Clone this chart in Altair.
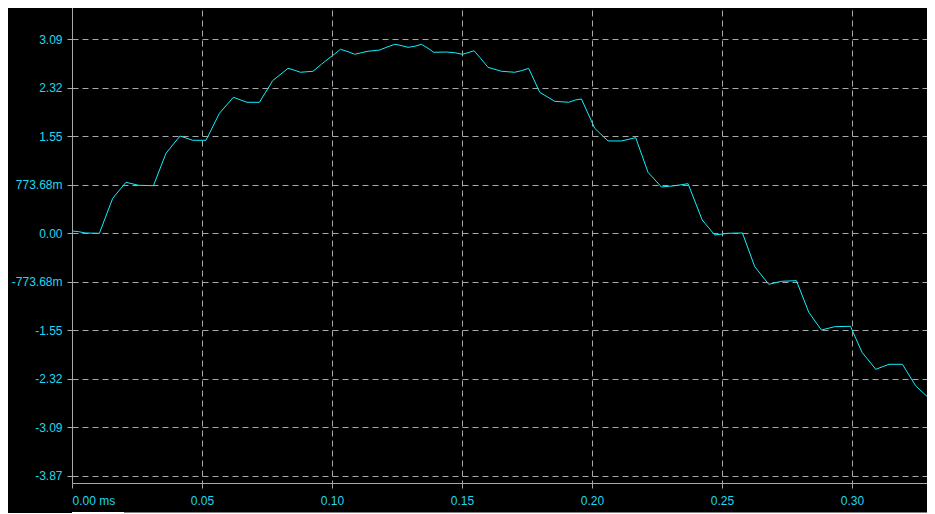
import altair as alt
import pandas as pd

# time (ms) and voltage (V)
t_ms = [0.0000, 0.00258, 0.00500, 0.01054, 0.01565, 0.02077, 0.02554, 0.03131,
        0.03615, 0.04154, 0.04642, 0.05154, 0.05669, 0.06208, 0.06731, 0.07208,
        0.07719, 0.08308, 0.08565, 0.08785, 0.09269, 0.09592, 0.09846, 0.10104,
        0.10323, 0.10615, 0.10873, 0.11131, 0.11385, 0.11835, 0.12154, 0.12412,
        0.12577, 0.12923, 0.13181, 0.13438, 0.13692, 0.13912, 0.14400, 0.14719,
        0.15015, 0.15231, 0.15462, 0.15681, 0.16000, 0.16515, 0.17027, 0.17285,
        0.17565, 0.17988, 0.18565, 0.19104, 0.19362, 0.19592, 0.20104, 0.20615,
        0.21131, 0.21681, 0.22154, 0.22669, 0.23181, 0.23692, 0.24238, 0.24719,
        0.25231, 0.25785, 0.26258, 0.26796, 0.27285, 0.27862, 0.28335, 0.28823,
        0.29335, 0.29938, 0.30385, 0.30912, 0.31423, 0.31938, 0.32450, 0.32923]
volts = [0.037, 0.026, 0.005, 0.000, 0.558, 0.814, 0.766, 0.759,
         1.276, 1.552, 1.484, 1.484, 1.914, 2.170, 2.090, 2.090,
         2.435, 2.632, 2.601, 2.569, 2.585, 2.696, 2.781, 2.861,
         2.936, 2.897, 2.856, 2.881, 2.904, 2.924, 2.977, 3.015,
         3.004, 2.967, 2.983, 3.015, 2.952, 2.888, 2.892, 2.881,
         2.856, 2.881, 2.913, 2.808, 2.648, 2.585, 2.569, 2.594,
         2.632, 2.250, 2.106, 2.090, 2.127, 2.143, 1.675, 1.473,
         1.473, 1.525, 0.973, 0.739, 0.759, 0.791, 0.212, -0.027,
         0.000, 0.005, -0.533, -0.814, -0.766, -0.756, -1.260, -1.543,
         -1.490, -1.484, -1.899, -2.170, -2.090, -2.090, -2.436, -2.616]

y_step = 0.773684
y_ticks = [k * y_step for k in range(-5, 5)]
x_ticks = [0.0, 0.05, 0.10, 0.15, 0.20, 0.25, 0.30]
y_domain = [-3.984, 3.722]
x_domain = [0.0, 0.3296]

df = pd.DataFrame({"t": t_ms, "v": volts})

GRID = "#a8a8a8"
CYAN_LINE = "#10f0ff"
CYAN_TEXT = "#1ed8f0"

y_label_expr = (
    "abs(datum.value) < 0.001 ? '0.00' : "
    "abs(datum.value) < 1 ? (datum.value < 0 ? '-' : '') + format(abs(datum.value) * 1000, '.2f') + 'm' : "
    "(datum.value < 0 ? '-' : '') + format(abs(datum.value), '.2f')"
)
x_label_expr = "datum.value == 0 ? '0.00 ms' : format(datum.value, '.2f')"

line = alt.Chart(df).mark_line(color=CYAN_LINE, strokeWidth=1, clip=True).encode(
    x=alt.X("t:Q", scale=alt.Scale(domain=x_domain, nice=False, zero=False),
            axis=alt.Axis(values=x_ticks, labelExpr=x_label_expr, title=None,
                          grid=True, gridColor=GRID, gridDash=[6, 4], gridWidth=1,
                          domainColor=GRID, tickColor=GRID, tickSize=5,
                          labelColor=CYAN_TEXT, labelFont="Liberation Sans",
                          labelFontSize=12, labelPadding=7, labelFlush=True,
                          labelOverlap=False, labelBound=False)),
    y=alt.Y("v:Q", scale=alt.Scale(domain=y_domain, nice=False, zero=False),
            axis=alt.Axis(values=y_ticks, labelExpr=y_label_expr, title=None,
                          grid=True, gridColor=GRID, gridDash=[6, 4], gridWidth=1,
                          domainColor=GRID, tickColor=GRID, tickSize=5,
                          labelColor=CYAN_TEXT, labelFont="Liberation Sans",
                          labelFontSize=12, labelPadding=5, labelFlush=False,
                          labelOverlap=False, labelBound=False)),
)

# scrollbar strip under the plot
scroll_bg = alt.Chart(df).mark_rule(color="#808080", strokeWidth=1).encode(
    x=alt.value(0), x2=alt.value(857), y=alt.value(512.5)
)
scroll_thumb = alt.Chart(df).mark_rule(color="#ffffff", strokeWidth=1).encode(
    x=alt.value(0), x2=alt.value(52), y=alt.value(512.5)
)

chart = alt.layer(line, scroll_bg, scroll_thumb).properties(
    width=857, height=483,
    autosize=alt.AutoSizeParams(type="none"),
    padding={"left": 64, "top": -8, "right": -2, "bottom": 30},
    background="#000000",
).configure_view(
    stroke=GRID, strokeDash=[6, 4], strokeWidth=1
)

chart.save("out.html", embed_options={"renderer": "svg", "actions": False})
